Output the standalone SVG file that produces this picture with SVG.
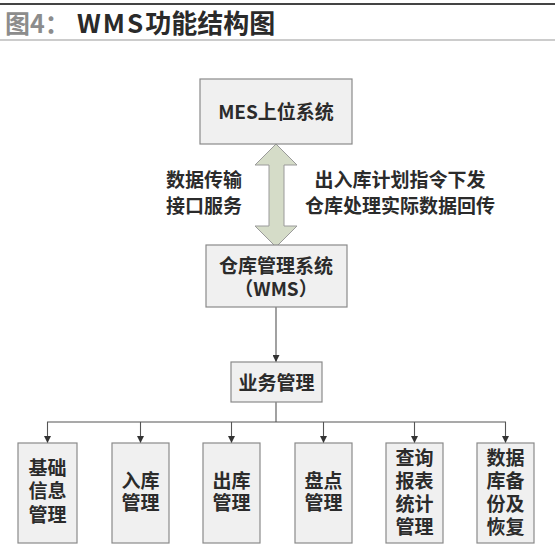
<svg xmlns="http://www.w3.org/2000/svg" width="555" height="551" viewBox="0 0 555 551">
<defs>
<style>
.box{fill:#f0f0f0;stroke:#8a8a8a;stroke-width:1.2}
.t{font-family:"Noto Sans CJK SC","Noto Sans",sans-serif;font-size:19px;font-weight:bold;fill:#2b2b2b;text-anchor:middle}
.c{fill:none;stroke:#555;stroke-width:1.1}
</style>
<marker id="ah" viewBox="0 0 10 10" refX="10" refY="5" markerWidth="7" markerHeight="7" orient="auto" markerUnits="userSpaceOnUse">
<path d="M0,0 L10,5 L0,10 z" fill="#333"/>
</marker>
</defs>
<rect width="555" height="551" fill="#fff"/>
<g id="title">
<line x1="0" y1="4" x2="555" y2="4" stroke="#444" stroke-width="2"/>
<line x1="0" y1="40" x2="555" y2="40" stroke="#999" stroke-width="1"/>
<text x="5" y="33" font-family="'Noto Sans CJK SC',sans-serif" font-size="25" font-weight="bold" fill="#8c8c8c">图4：</text>
<text x="77" y="33" font-family="'Noto Sans CJK SC',sans-serif" font-size="26" font-weight="bold" fill="#2a2a2a"><tspan letter-spacing="2">WMS</tspan>功能结构图</text>
</g>
<g id="connectors">
<polygon points="276,144 297,165 284,165 284,226 297,226 276,247 255,226 269,226 269,165 255,165" fill="#d5dcc8" stroke="#9a9a9a" stroke-width="1"/>
<line class="c" x1="276" y1="307" x2="276" y2="362" marker-end="url(#ah)"/>
<line class="c" x1="276" y1="402" x2="276" y2="422"/>
<line class="c" x1="47" y1="422" x2="506" y2="422"/>
<line class="c" x1="47.5" y1="422" x2="47.5" y2="443" marker-end="url(#ah)"/>
<line class="c" x1="140.5" y1="422" x2="140.5" y2="443" marker-end="url(#ah)"/>
<line class="c" x1="231.5" y1="422" x2="231.5" y2="443" marker-end="url(#ah)"/>
<line class="c" x1="323.5" y1="422" x2="323.5" y2="443" marker-end="url(#ah)"/>
<line class="c" x1="414.5" y1="422" x2="414.5" y2="443" marker-end="url(#ah)"/>
<line class="c" x1="505.5" y1="422" x2="505.5" y2="443" marker-end="url(#ah)"/>
</g>
<g id="labels">
<text class="t"><tspan x="204" y="187">数据传输</tspan><tspan x="204" y="213">接口服务</tspan></text>
<text class="t"><tspan x="400" y="187">出入库计划指令下发</tspan><tspan x="400" y="213">仓库处理实际数据回传</tspan></text>
</g>
<g id="mes">
<rect class="box" x="200" y="79" width="152" height="65"/>
<text class="t" x="276" y="119">MES上位系统</text>
</g>
<g id="wms">
<rect class="box" x="206" y="245" width="141" height="62"/>
<text class="t"><tspan x="276" y="273">仓库管理系统</tspan><tspan x="276" y="296">（WMS）</tspan></text>
</g>
<g id="yewu">
<rect class="box" x="231" y="362" width="91" height="40"/>
<text class="t" x="276.5" y="390">业务管理</text>
</g>
<g id="jichu">
<rect class="box" x="18" y="443" width="59" height="100"/>
<text class="t"><tspan x="47.5" y="475">基础</tspan><tspan x="47.5" y="498">信息</tspan><tspan x="47.5" y="522">管理</tspan></text>
</g>
<g id="ruku">
<rect class="box" x="112" y="443" width="57" height="100"/>
<text class="t"><tspan x="140.5" y="488">入库</tspan><tspan x="140.5" y="510">管理</tspan></text>
</g>
<g id="chuku">
<rect class="box" x="203" y="443" width="57" height="100"/>
<text class="t"><tspan x="231.5" y="488">出库</tspan><tspan x="231.5" y="510">管理</tspan></text>
</g>
<g id="pandian">
<rect class="box" x="295" y="443" width="57" height="100"/>
<text class="t"><tspan x="323.5" y="488">盘点</tspan><tspan x="323.5" y="510">管理</tspan></text>
</g>
<g id="chaxun">
<rect class="box" x="386" y="443" width="57" height="100"/>
<text class="t"><tspan x="414.5" y="465">查询</tspan><tspan x="414.5" y="488">报表</tspan><tspan x="414.5" y="511">统计</tspan><tspan x="414.5" y="534">管理</tspan></text>
</g>
<g id="beifen">
<rect class="box" x="477" y="443" width="57" height="100"/>
<text class="t"><tspan x="505.5" y="465">数据</tspan><tspan x="505.5" y="488">库备</tspan><tspan x="505.5" y="511">份及</tspan><tspan x="505.5" y="534">恢复</tspan></text>
</g>
</svg>
